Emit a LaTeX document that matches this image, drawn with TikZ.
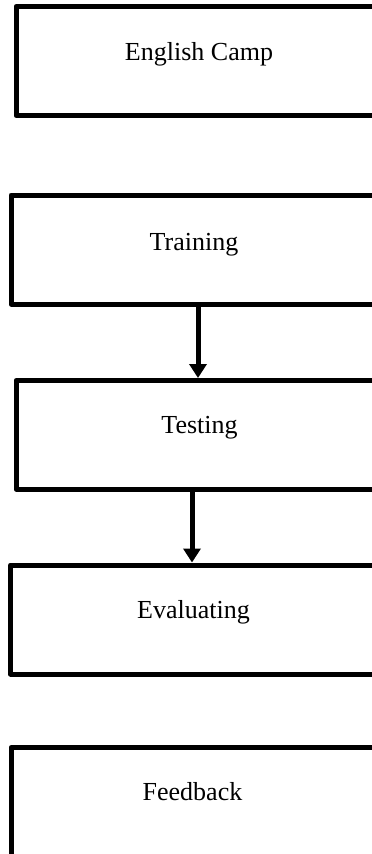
\documentclass[tikz,border=0pt]{standalone}
\usepackage{fontspec}
\setmainfont{Liberation Serif}
\usetikzlibrary{arrows.meta}
\begin{document}
\begin{tikzpicture}[x=1pt,y=-1pt,
  stage/.style={draw=black, line width=5pt, rectangle, inner sep=0pt, line join=round},
  caption/.style={anchor=base, inner sep=0pt, font=\fontsize{26}{30}\selectfont},
  flow/.style={draw=black, line width=5pt, -{Triangle[length=14pt,width=17pt]}}]
\useasboundingbox (0,0) rectangle (372,854);
\clip (0,0) rectangle (372,854);
\node[stage, minimum width=384pt, minimum height=109pt] (b1) at (208,61) {};
\node[stage, minimum width=389pt, minimum height=109pt] (b2) at (205.5,249.5) {};
\node[stage, minimum width=384pt, minimum height=108.5pt] (b3) at (208,434.75) {};
\node[stage, minimum width=389.5pt, minimum height=109pt] (b4) at (205.25,619.5) {};
\node[stage, minimum width=389pt, minimum height=110.5pt] (b5) at (205.5,802.75) {};
\node[caption] (t1) at (199,60) {English Camp};
\node[caption] (t2) at (194,250) {Training};
\node[caption] (t3) at (199.5,433) {Testing};
\node[caption] (t4) at (193.5,618) {Evaluating};
\node[caption] (t5) at (192.5,800) {Feedback};
\draw[flow] ([xshift=-7.5pt]b2.south) -- ([xshift=-10pt]b3.north);
\draw[flow] ([xshift=-16pt]b3.south) -- ([xshift=-13.25pt]b4.north);
\end{tikzpicture}
\end{document}
